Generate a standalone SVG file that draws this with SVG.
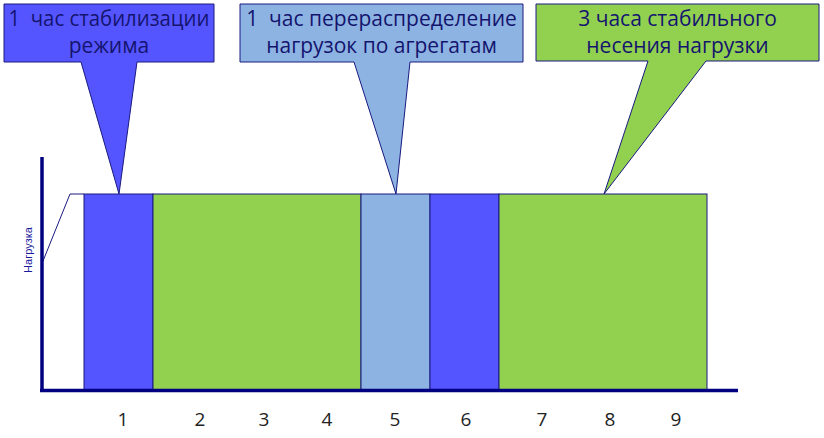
<svg xmlns="http://www.w3.org/2000/svg" width="824" height="438" viewBox="0 0 824 438">
<style>
.bar{stroke:#1a1a80;stroke-width:1}
.blue{fill:#5555FF}
.green{fill:#92D050}
.lblue{fill:#8DB3E2}
.call{stroke:#1a1a80;stroke-width:1;stroke-linejoin:miter}
.ct{font-family:"Open Sans","Liberation Sans",sans-serif;font-size:21px;fill:#14146e;text-anchor:middle;white-space:pre}
.num{font-family:"Open Sans","Liberation Sans",sans-serif;font-size:19px;fill:#222;text-anchor:middle}
.axis{stroke:#000080;stroke-width:3.5;fill:none}
</style>
<rect width="824" height="438" fill="#fff"/>
<g id="bars">
<rect id="bar1" class="bar blue" x="84" y="194" width="69" height="196"/>
<rect id="bar2" class="bar green" x="153" y="194" width="208" height="196"/>
<rect id="bar3" class="bar lblue" x="361" y="194" width="69" height="196"/>
<rect id="bar4" class="bar blue" x="430" y="194" width="69" height="196"/>
<rect id="bar5" class="bar green" x="499" y="194" width="208" height="196"/>
</g>
<g id="connectors">
<polyline points="43,261 70,194 84,194" fill="none" stroke="#1a1a80" stroke-width="1"/>
</g>
<g id="axes">
<line class="axis" x1="42" y1="157" x2="42" y2="392"/>
<line class="axis" x1="40" y1="390.5" x2="738" y2="390.5"/>
<text x="32" y="250" transform="rotate(-90 32 250)" font-family="Liberation Sans,Arial,sans-serif" font-size="11" fill="#1a1a9e" text-anchor="middle">Нагрузка</text>
</g>
<g id="callout1">
<path class="call blue" d="M4,4 H214 V62 H137 L119,194 L81,62 H4 Z"/>
<text class="ct" x="109" y="26" xml:space="preserve" textLength="201" lengthAdjust="spacingAndGlyphs">1  час стабилизации</text>
<text class="ct" x="109" y="53">режима</text>
</g>
<g id="callout2">
<path class="call lblue" d="M240,4 H523 V62 H410 L396,194 L354,62 H240 Z"/>
<text class="ct" x="381.5" y="26" xml:space="preserve">1  час перераспределение</text>
<text class="ct" x="381.5" y="53">нагрузок по агрегатам</text>
</g>
<g id="callout3">
<path class="call green" d="M536,4 H819 V61 H706 L604,194 L648,61 H536 Z"/>
<text class="ct" x="677.5" y="26">3 часа стабильного</text>
<text class="ct" x="677.5" y="53">несения нагрузки</text>
</g>
<g id="labels">
<text class="num" x="123" y="426">1</text>
<text class="num" x="200" y="426">2</text>
<text class="num" x="264" y="426">3</text>
<text class="num" x="327" y="426">4</text>
<text class="num" x="395" y="426">5</text>
<text class="num" x="466" y="426">6</text>
<text class="num" x="542" y="426">7</text>
<text class="num" x="610" y="426">8</text>
<text class="num" x="676" y="426">9</text>
</g>
</svg>
